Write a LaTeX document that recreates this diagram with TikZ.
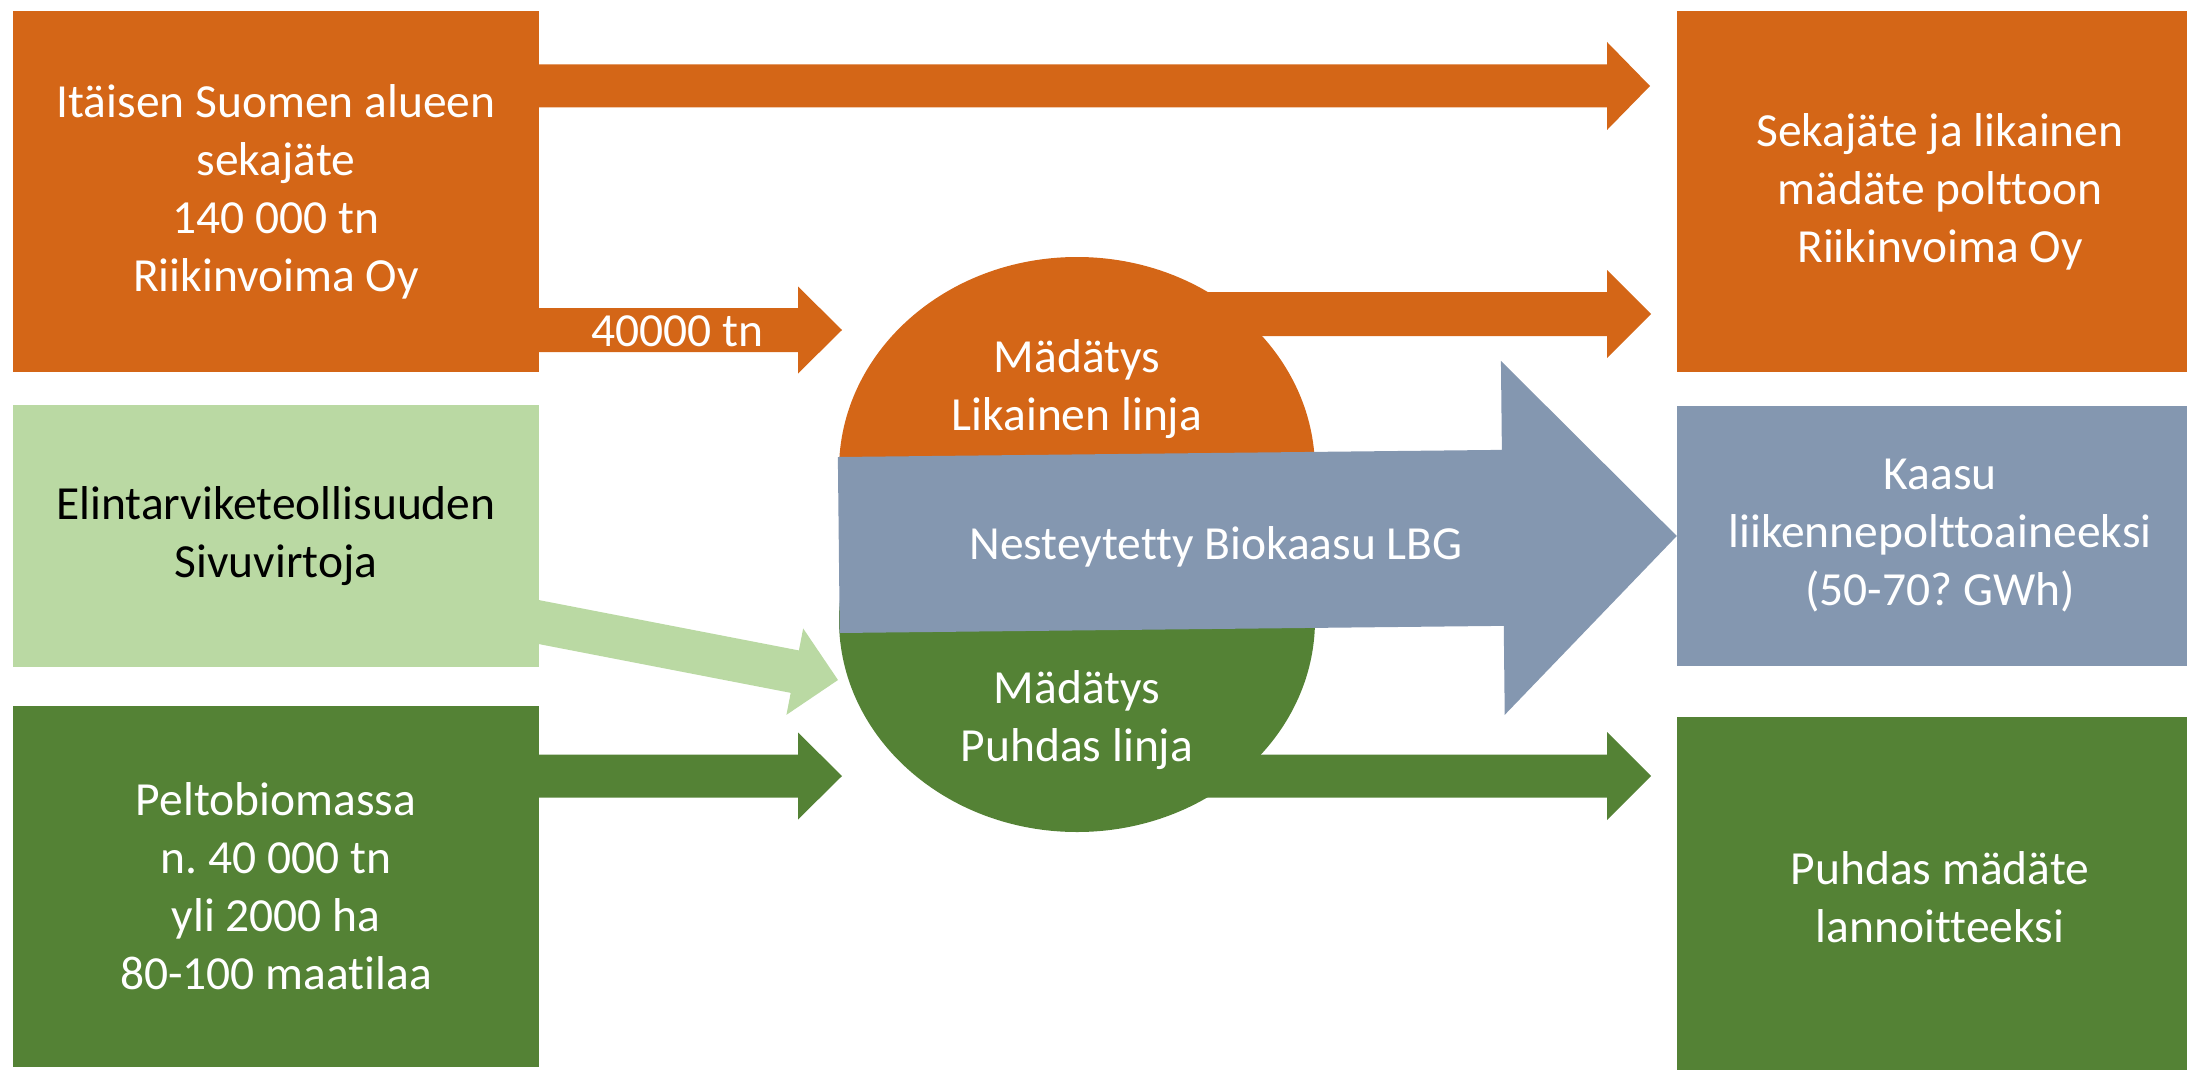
\documentclass[tikz,border=0pt]{standalone}
\usepackage{fontspec}
\setmainfont{Carlito}[Ligatures=NoCommon]
\usetikzlibrary{calc,shapes.geometric}
\definecolor{orng}{HTML}{D46617}
\definecolor{lgrn}{HTML}{BAD9A3}
\definecolor{dgrn}{HTML}{548235}
\definecolor{bgray}{HTML}{8497B0}
\newcommand\bodyfont{\fontsize{47.5}{58}\selectfont\frenchspacing}
\tikzset{
  box/.style={inner sep=0pt, minimum width=526pt, minimum height=361pt, align=center, text=white, font=\bodyfont},
  lbl/.style={inner sep=0pt, align=center, text=white, font=\bodyfont},
}
% #1 colour, #2 start, #3 tip, #4 half shaft, #5 half head, #6 head length
\newcommand\blockarr[6]{%
  \path ($(#3)!#6!(#2)$) coordinate (hb);
  \fill[#1] ($(#2)!#4!90:(#3)$) -- ($(hb)!#4!-90:(#2)$) -- ($(hb)!#5!-90:(#2)$) -- (#3)
     -- ($(hb)!#5!90:(#2)$) -- ($(hb)!#4!90:(#2)$) -- ($(#2)!#4!-90:(#3)$) -- cycle;
}
\begin{document}
\begin{tikzpicture}[x=1pt,y=-1pt]
\useasboundingbox (0,0) rectangle (2187,1070);
% boxes
\node[box, fill=orng] (src) at (276,191.5) {Itäisen Suomen alueen\\sekajäte\\140 000 tn\\Riikinvoima Oy};
\node[box, fill=lgrn, text=black, minimum height=262pt] (elin) at (276,536) {Elintarviketeollisuuden\\Sivuvirtoja};
\node[box, fill=dgrn] (pelto) at (276,886.5) {Peltobiomassa\\n. 40 000 tn\\yli 2000 ha\\80-100 maatilaa};
\node[box, fill=orng] (poltto) at (1940,191.5) {Sekajäte ja likainen\\mädäte polttoon\\Riikinvoima Oy};
\node[box, fill=bgray, minimum height=260pt] (kaasu) at (1940,536) {Kaasu\\liikennepolttoaineeksi\\(50-70? GWh)};
\node[box, fill=dgrn] (lannoite) at (1940,897.5) {Puhdas mädäte\\lannoitteeksi};
% digester shape (named)
\node[ellipse, inner sep=0pt, minimum width=476pt, minimum height=576pt] (dig) at (1077,545) {};
\coordinate (digtop) at ($(dig.center)+(0,-75)$);
\coordinate (digbot) at ($(dig.center)+(0,75)$);
% coordinates
\coordinate (t1) at (1650,86);
\coordinate (t2) at (842,330);
\coordinate (t3) at (1651,314);
\coordinate (t4) at (kaasu.west);
\coordinate (t5) at (838,680);
\coordinate (t6) at (842,776);
\coordinate (t7) at (1651,776);
\coordinate (s1) at (src.east |- t1);
\coordinate (s2) at (src.east |- t2);
\coordinate (s3) at (dig.center |- t3);
\coordinate (s4) at (dig.west);
\coordinate (s5) at ($(elin.south east)+(-10,-47)$);
\coordinate (s6) at (pelto.east |- t6);
\coordinate (s7) at (dig.center |- t7);
% arrows
\blockarr{orng}{s1}{t1}{21.5pt}{44pt}{43pt}
\blockarr{orng}{s2}{t2}{22pt}{43.5pt}{44pt}
\blockarr{orng}{s3}{t3}{22pt}{44pt}{44pt}
\blockarr{dgrn}{s7}{t7}{21.5pt}{44pt}{44pt}
% digester halves
\begin{scope}
  \clip ($(dig.west |- dig.north)+(-5,-5)$) rectangle ($(dig.east)+(5,0)$);
  \fill[orng] (digtop) ellipse [x radius=238pt, y radius=213pt];
\end{scope}
\begin{scope}
  \clip ($(dig.west)+(-5,0)$) rectangle ($(dig.east |- dig.south)+(5,5)$);
  \fill[dgrn] (digbot) ellipse [x radius=238pt, y radius=212pt];
\end{scope}
\blockarr{bgray}{s4}{t4}{88pt}{177pt}{174pt}
\blockarr{lgrn}{s5}{t5}{21.6pt}{44pt}{44pt}
\blockarr{dgrn}{s6}{t6}{21.5pt}{43.5pt}{44pt}
% labels
\node[lbl] (l40) at (677,331) {40000 tn};
\node[lbl] (likainen) at (1077,389) {Mädätys\\Likainen linja};
\node[lbl] (puhdas) at (1077,720) {Mädätys\\Puhdas linja};
\node[lbl] (lbg) at (1216,547) {Nesteytetty Biokaasu LBG};
\end{tikzpicture}
\end{document}
